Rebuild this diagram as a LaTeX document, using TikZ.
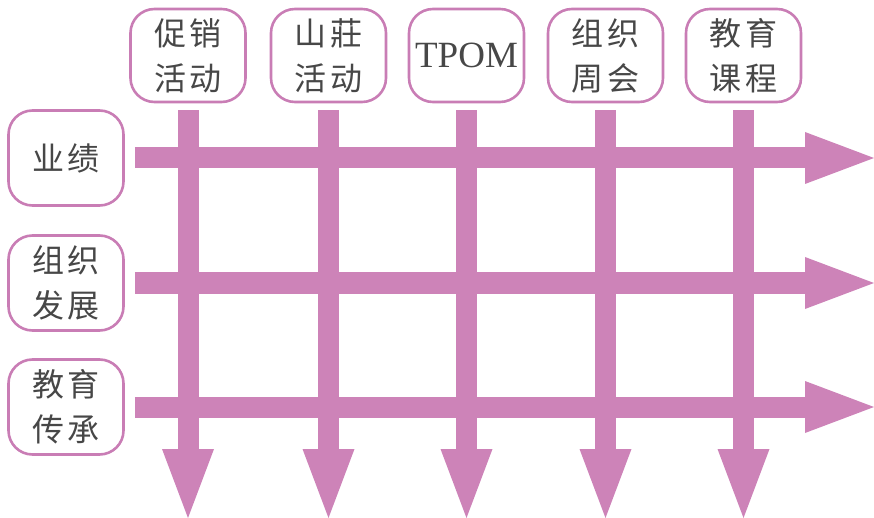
\documentclass[tikz,border=0pt]{standalone}
\usepackage{fontspec}
\newfontfamily\cjk[LetterSpace=10]{Noto Sans CJK SC}
\newfontfamily\latinserif{Liberation Serif}
\usetikzlibrary{arrows.meta}
\definecolor{arrowpink}{HTML}{CD83B8}
\definecolor{boxpink}{HTML}{C97DB5}
\definecolor{txt}{HTML}{474747}
\tikzset{
  labelbox/.style={draw=boxpink, line width=2.6pt, rounded corners=24pt, fill=white,
    minimum width=115pt, minimum height=93pt, text=txt, align=center, inner sep=0pt,
    font=\cjk\fontsize{32}{45}\selectfont},
  bigarrow/.style={draw=arrowpink, line width=21pt, line cap=butt,
    -{Triangle[length=69pt,width=52pt,line width=0pt]}}
}
\begin{document}
\begin{tikzpicture}[x=1pt,y=-1pt]
\useasboundingbox (0,0) rectangle (874,518);
% top boxes
\node[labelbox] (t1) at (188,55.5) {促销\\活动};
\node[labelbox] (t2) at (328.5,55.5) {山莊\\活动};
\node[labelbox, font=\latinserif\fontsize{37}{40}\selectfont] (t3) at (466.5,55.5) {TPOM};
\node[labelbox] (t4) at (605.5,55.5) {组织\\周会};
\node[labelbox] (t5) at (743.5,55.5) {教育\\课程};
% left boxes
\node[labelbox, minimum height=95pt] (l1) at (66,158) {业绩};
\node[labelbox, minimum height=95pt] (l2) at (66,283) {组织\\发展};
\node[labelbox, minimum height=95pt] (l3) at (66,407) {教育\\传承};
% free ends
\coordinate (bot) at (0,518);
\coordinate (right) at (874,0);
% horizontal arrows
\foreach \n in {l1,l2,l3}{
  \draw[bigarrow, shorten <=10pt] (\n.east) -- (\n.east -| right);
}
% vertical arrows
\foreach \n in {t1,t2,t3,t4,t5}{
  \draw[bigarrow, shorten <=7pt] (\n.south) -- (\n.south |- bot);
}
\end{tikzpicture}
\end{document}
